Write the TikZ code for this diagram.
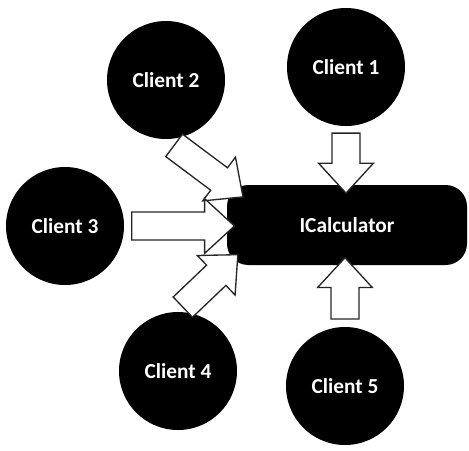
\documentclass[tikz,border=0pt]{standalone}
\usepackage{fontspec}
\setmainfont{Carlito}
\usetikzlibrary{shapes.arrows}

\begin{document}
\begin{tikzpicture}[x=0.75pt,y=-0.75pt,
	client/.style={circle, fill=black, text=white, minimum size=88.5pt, inner sep=0pt, font=\fontsize{16}{19}\selectfont\bfseries},
	service/.style={rectangle, rounded corners=16pt, fill=black, text=white, minimum width=180pt, minimum height=60pt, font=\fontsize{16}{19}\selectfont\bfseries},
	blockarrow/.style={single arrow, draw=black!85, fill=white, line width=1pt, inner sep=10pt, single arrow head extend=10pt, single arrow tip angle=85, sloped, allow upside down}]
	\useasboundingbox (0,0) rectangle (469,451);
	\node[service] (calc) at (347,225) {ICalculator};
	\node[client] (c1) at (346,67) {Client 1};
	\node[client] (c2) at (166,80) {Client 2};
	\node[client] (c3) at (65,226) {Client 3};
	\node[client] (c4) at (178,371) {Client 4};
	\node[client] (c5) at (345,386) {Client 5};
	\path (c1.south) -- (c1.south |- calc.north) node[blockarrow, midway, minimum height=45pt] (a1) {};
	\path (c2.south) -- (calc.north west) node[blockarrow, pos=0.6, minimum height=64.5pt] (a2) {};
	\path (c3.east) -- (c3.east -| calc.west) node[blockarrow, midway, minimum height=77pt] (a3) {};
	\path (c4.north) -- (calc.south west) node[blockarrow, pos=0.55, minimum height=57pt] (a4) {};
	\path (c5.north) -- (c5.north |- calc.south) node[blockarrow, midway, minimum height=46pt] (a5) {};
\end{tikzpicture}
\end{document}
